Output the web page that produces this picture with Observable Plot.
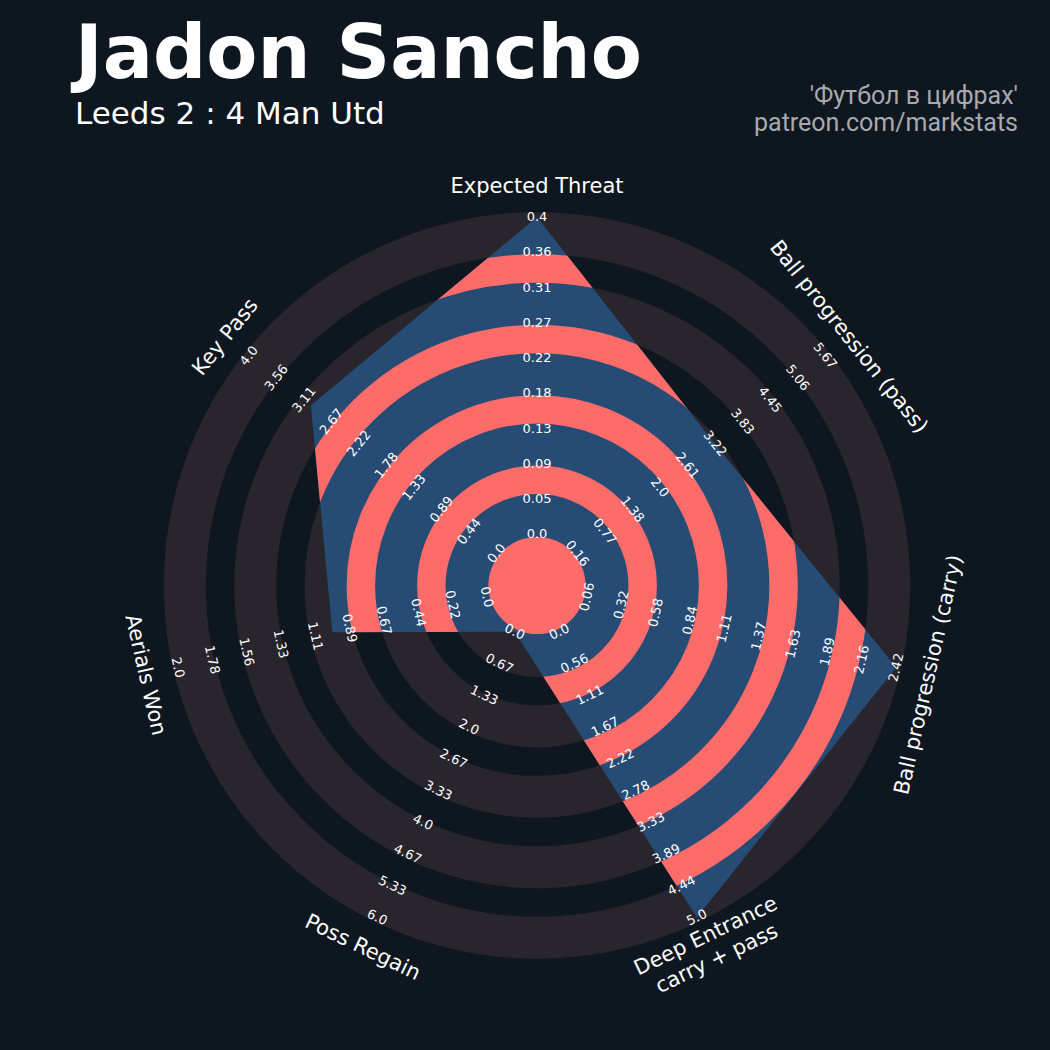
<!DOCTYPE html>
<html>
<head>
<meta charset="utf-8">
<script src="https://cdn.jsdelivr.net/npm/d3@7"></script>
<script src="https://cdn.jsdelivr.net/npm/@observablehq/plot@0.6"></script>
<style>
  html, body { margin: 0; padding: 0; background: #0e1720; }
  #page { position: relative; width: 1050px; height: 1050px; overflow: hidden; background: #0e1720; }
  #header { position: relative; height: 150px; }
  .title { position: absolute; left: 75px; top: 16px; font: bold 74.5px/1 "DejaVu Sans"; color: #ffffff; white-space: nowrap; }
  .subtitle { position: absolute; left: 75px; top: 98px; font: 31px/1 "DejaVu Sans"; color: #ffffff; white-space: nowrap; }
  .credit { position: absolute; right: 32px; top: 82px; font: 25px/27px Roboto; color: #a9a8ae; text-align: right; white-space: nowrap; }
  #chart svg { display: block; }
</style>
</head>
<body>
<div id="page">
  <div id="header">
    <div class="title">Jadon Sancho</div>
    <div class="subtitle">Leeds 2 : 4 Man Utd</div>
    <div class="credit">'Футбол в цифрах'<br>patreon.com/markstats</div>
  </div>
  <div id="chart"></div>
</div>
<script>
// ---- data ----------------------------------------------------------------
const params = [
  "Expected Threat",
  "Ball progression (pass)",
  "Ball progression (carry)",
  "Deep Entrance\ncarry + pass",
  "Poss Regain",
  "Aerials Won",
  "Key Pass"
];
const rangeLow  = [0, 0.16, 0.06, 0, 0, 0, 0];
const rangeHigh = [0.4, 5.67, 2.42, 5.0, 6.0, 2.0, 4.0];
const values    = [0.4, 3.22, 2.42, 5.0, 0, 1.0, 3.0];

const tickLabels = [
  ["0.0", "0.05", "0.09", "0.13", "0.18", "0.22", "0.27", "0.31", "0.36", "0.4"],
  ["0.16", "0.77", "1.38", "2.0", "2.61", "3.22", "3.83", "4.45", "5.06", "5.67"],
  ["0.06", "0.32", "0.58", "0.84", "1.11", "1.37", "1.63", "1.89", "2.16", "2.42"],
  ["0.0", "0.56", "1.11", "1.67", "2.22", "2.78", "3.33", "3.89", "4.44", "5.0"],
  ["0.0", "0.67", "1.33", "2.0", "2.67", "3.33", "4.0", "4.67", "5.33", "6.0"],
  ["0.0", "0.22", "0.44", "0.67", "0.89", "1.11", "1.33", "1.56", "1.78", "2.0"],
  ["0.0", "0.44", "0.89", "1.33", "1.78", "2.22", "2.67", "3.11", "3.56", "4.0"]
];

// ---- styling ---------------------------------------------------------------
const BG = "#0e1720";
const RING = "#28252c";
const FILL = "#264b75";
const ALT = "#fe6c6a";

// ---- geometry (in ring units) --------------------------------------------
const W = 1050, H = 900;
const PX = 70.45;              // pixels per ring step
const CX = 536.5, CY = 435;    // centre of the radar inside the svg
const R0 = 0.73, SPAN = 4.5;   // radius of range minimum, and span to maximum
const LABEL_R = 5.68;          // radius of parameter names
const n = params.length;

const angleOf = i => i * 2 * Math.PI / n;
const polar = (r, i) => ({x: r * Math.sin(angleOf(i)), y: r * Math.cos(angleOf(i))});
const radiusOf = (v, i) => R0 + SPAN * (v - rangeLow[i]) / (rangeHigh[i] - rangeLow[i]);
const textAngle = i => {
  const deg = i * 360 / n;
  if (deg <= 90) return deg;
  if (deg >= 270) return deg - 360;
  return deg - 180;
};

const shape = values.map((v, i) => polar(radiusOf(v, i), i));

const tickRows = tickLabels.flatMap((labels, i) =>
  labels.map((label, j) => ({...polar(R0 + j * SPAN / (labels.length - 1), i), label, rotate: textAngle(i)}))
);
const paramRows = params.map((name, i) => ({...polar(LABEL_R, i), name, rotate: textAngle(i)}));

const origin = [{x: 0, y: 0}];
const wideBands = d3.range(1, 6);                 // outer bands centred on whole steps
const narrowBands = d3.range(1, 5).map(k => k + 0.5);
const WIDE = 0.596, NARROW = 0.404, CORE = 0.69;

const marks = [
  ...wideBands.map(k => Plot.dot(origin, {
    x: "x", y: "y", r: k * PX, fill: "none", stroke: RING, strokeWidth: WIDE * PX
  })),
  Plot.line(shape, {
    x: "x", y: "y", curve: "linear-closed", fill: FILL, stroke: "none", className: "radar-shape"
  }),
  ...narrowBands.map(k => Plot.dot(origin, {
    x: "x", y: "y", r: k * PX, fill: "none", stroke: ALT, strokeWidth: NARROW * PX, className: "radar-rings"
  })),
  Plot.dot(origin, {x: "x", y: "y", r: CORE * PX, fill: ALT, stroke: "none", className: "radar-rings"}),
  Plot.text(tickRows, {
    x: "x", y: "y", text: "label", rotate: "rotate", fill: "#ffffff",
    fontSize: 13, textAnchor: "middle", lineAnchor: "middle"
  }),
  Plot.text(paramRows, {
    x: "x", y: "y", text: "name", rotate: "rotate", fill: "#ffffff",
    fontSize: 21, lineHeight: 1.2, textAnchor: "middle", lineAnchor: "middle"
  })
];

const chart = Plot.plot({
  width: W,
  height: H,
  margin: 0,
  x: {domain: [-CX / PX, (W - CX) / PX], axis: null},
  y: {domain: [-(H - CY) / PX, CY / PX], axis: null},
  style: {background: BG, fontFamily: "DejaVu Sans", overflow: "visible"},
  marks
});

// keep the alternating rings inside the radar shape
const shapePath = chart.querySelector(".radar-shape path");
if (shapePath) {
  const svg = d3.select(chart);
  svg.insert("defs", ":first-child")
    .append("clipPath").attr("id", "radar-clip")
    .append("path").attr("d", shapePath.getAttribute("d"));
  svg.selectAll(".radar-rings").attr("clip-path", "url(#radar-clip)");
}

document.getElementById("chart").appendChild(chart);
</script>
</body>
</html>
